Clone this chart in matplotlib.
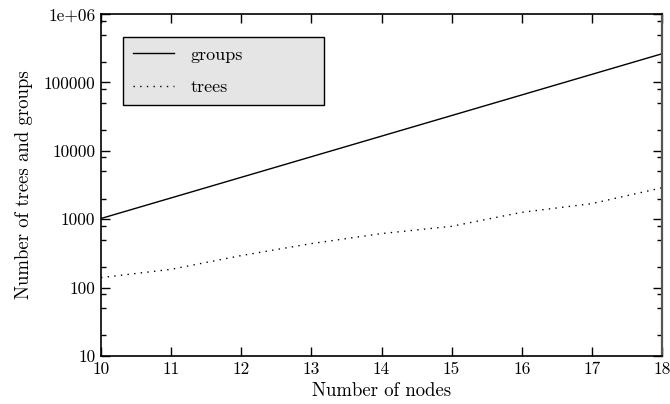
import matplotlib
matplotlib.use("Agg")
import matplotlib.pyplot as plt
from matplotlib.ticker import FixedLocator, FixedFormatter, NullFormatter

nodes = [10, 11, 12, 13, 14, 15, 16, 17, 18]
groups = [1024, 2048, 4096, 8192, 16384, 32768, 65536, 131072, 262144]
trees = [140, 185, 294, 440, 616, 787, 1260, 1690, 2880]

y_ticks = [10, 100, 1000, 10000, 100000, 1000000]
y_tick_labels = ["10", "100", "1000", "10000", "100000", "1e+06"]
x_ticks = [10, 11, 12, 13, 14, 15, 16, 17, 18]

plt.rcParams['font.family'] = ['cmr10', 'DejaVu Serif']
plt.rcParams['font.size'] = 12

fig = plt.figure(figsize=(6.7, 4.04), dpi=100)
ax = fig.add_axes([101/670, 48/404, 561/670, 342/404])

ax.plot(nodes, groups, color='black', lw=1.0, label='groups')
ax.plot(nodes, trees, color='black', lw=1.0, linestyle=(0, (1, 3.8)), label='trees')

ax.set_yscale('log')
ax.set_xlim(10, 18)
ax.set_ylim(10, 1e6)

ax.yaxis.set_major_locator(FixedLocator(y_ticks))
ax.yaxis.set_major_formatter(FixedFormatter(y_tick_labels))
minor = []
for d in y_ticks[:-1]:
    for m in (2, 5, 8):
        minor.append(d * m)
ax.yaxis.set_minor_locator(FixedLocator(minor))
ax.yaxis.set_minor_formatter(NullFormatter())
ax.xaxis.set_major_locator(FixedLocator(x_ticks))
ax.xaxis.set_minor_locator(FixedLocator([]))

ax.tick_params(which='major', direction='in', length=6.5, width=1.0,
               top=True, right=True, labelsize=12.5, pad=4)
ax.tick_params(which='minor', direction='in', length=3.3, width=1.0,
               right=True, left=True)
for s in ax.spines.values():
    s.set_linewidth(1.2)
ax.spines['right'].set_color('#555555')
ax.spines['right'].set_linewidth(1.6)

ax.set_xlabel('Number of nodes', fontsize=13.5, labelpad=4)
ax.set_ylabel('Number of trees and groups', fontsize=13.5, labelpad=8)

x0 = (123 - 101) / 561
y1 = (356 - 37) / 342
w = (324 - 123) / 561
h = (104 - 37) / 342
leg = ax.legend(loc='upper left', bbox_to_anchor=(x0, y1 - h, w, h), mode='expand',
                frameon=True, fancybox=False, edgecolor='black', facecolor='#e5e5e5',
                framealpha=1, handlelength=2.3, handletextpad=0.9, borderpad=0.55,
                labelspacing=0.95, borderaxespad=0, fontsize=13)
leg.get_frame().set_linewidth(1.0)

fig.savefig('out.png', dpi=100)
